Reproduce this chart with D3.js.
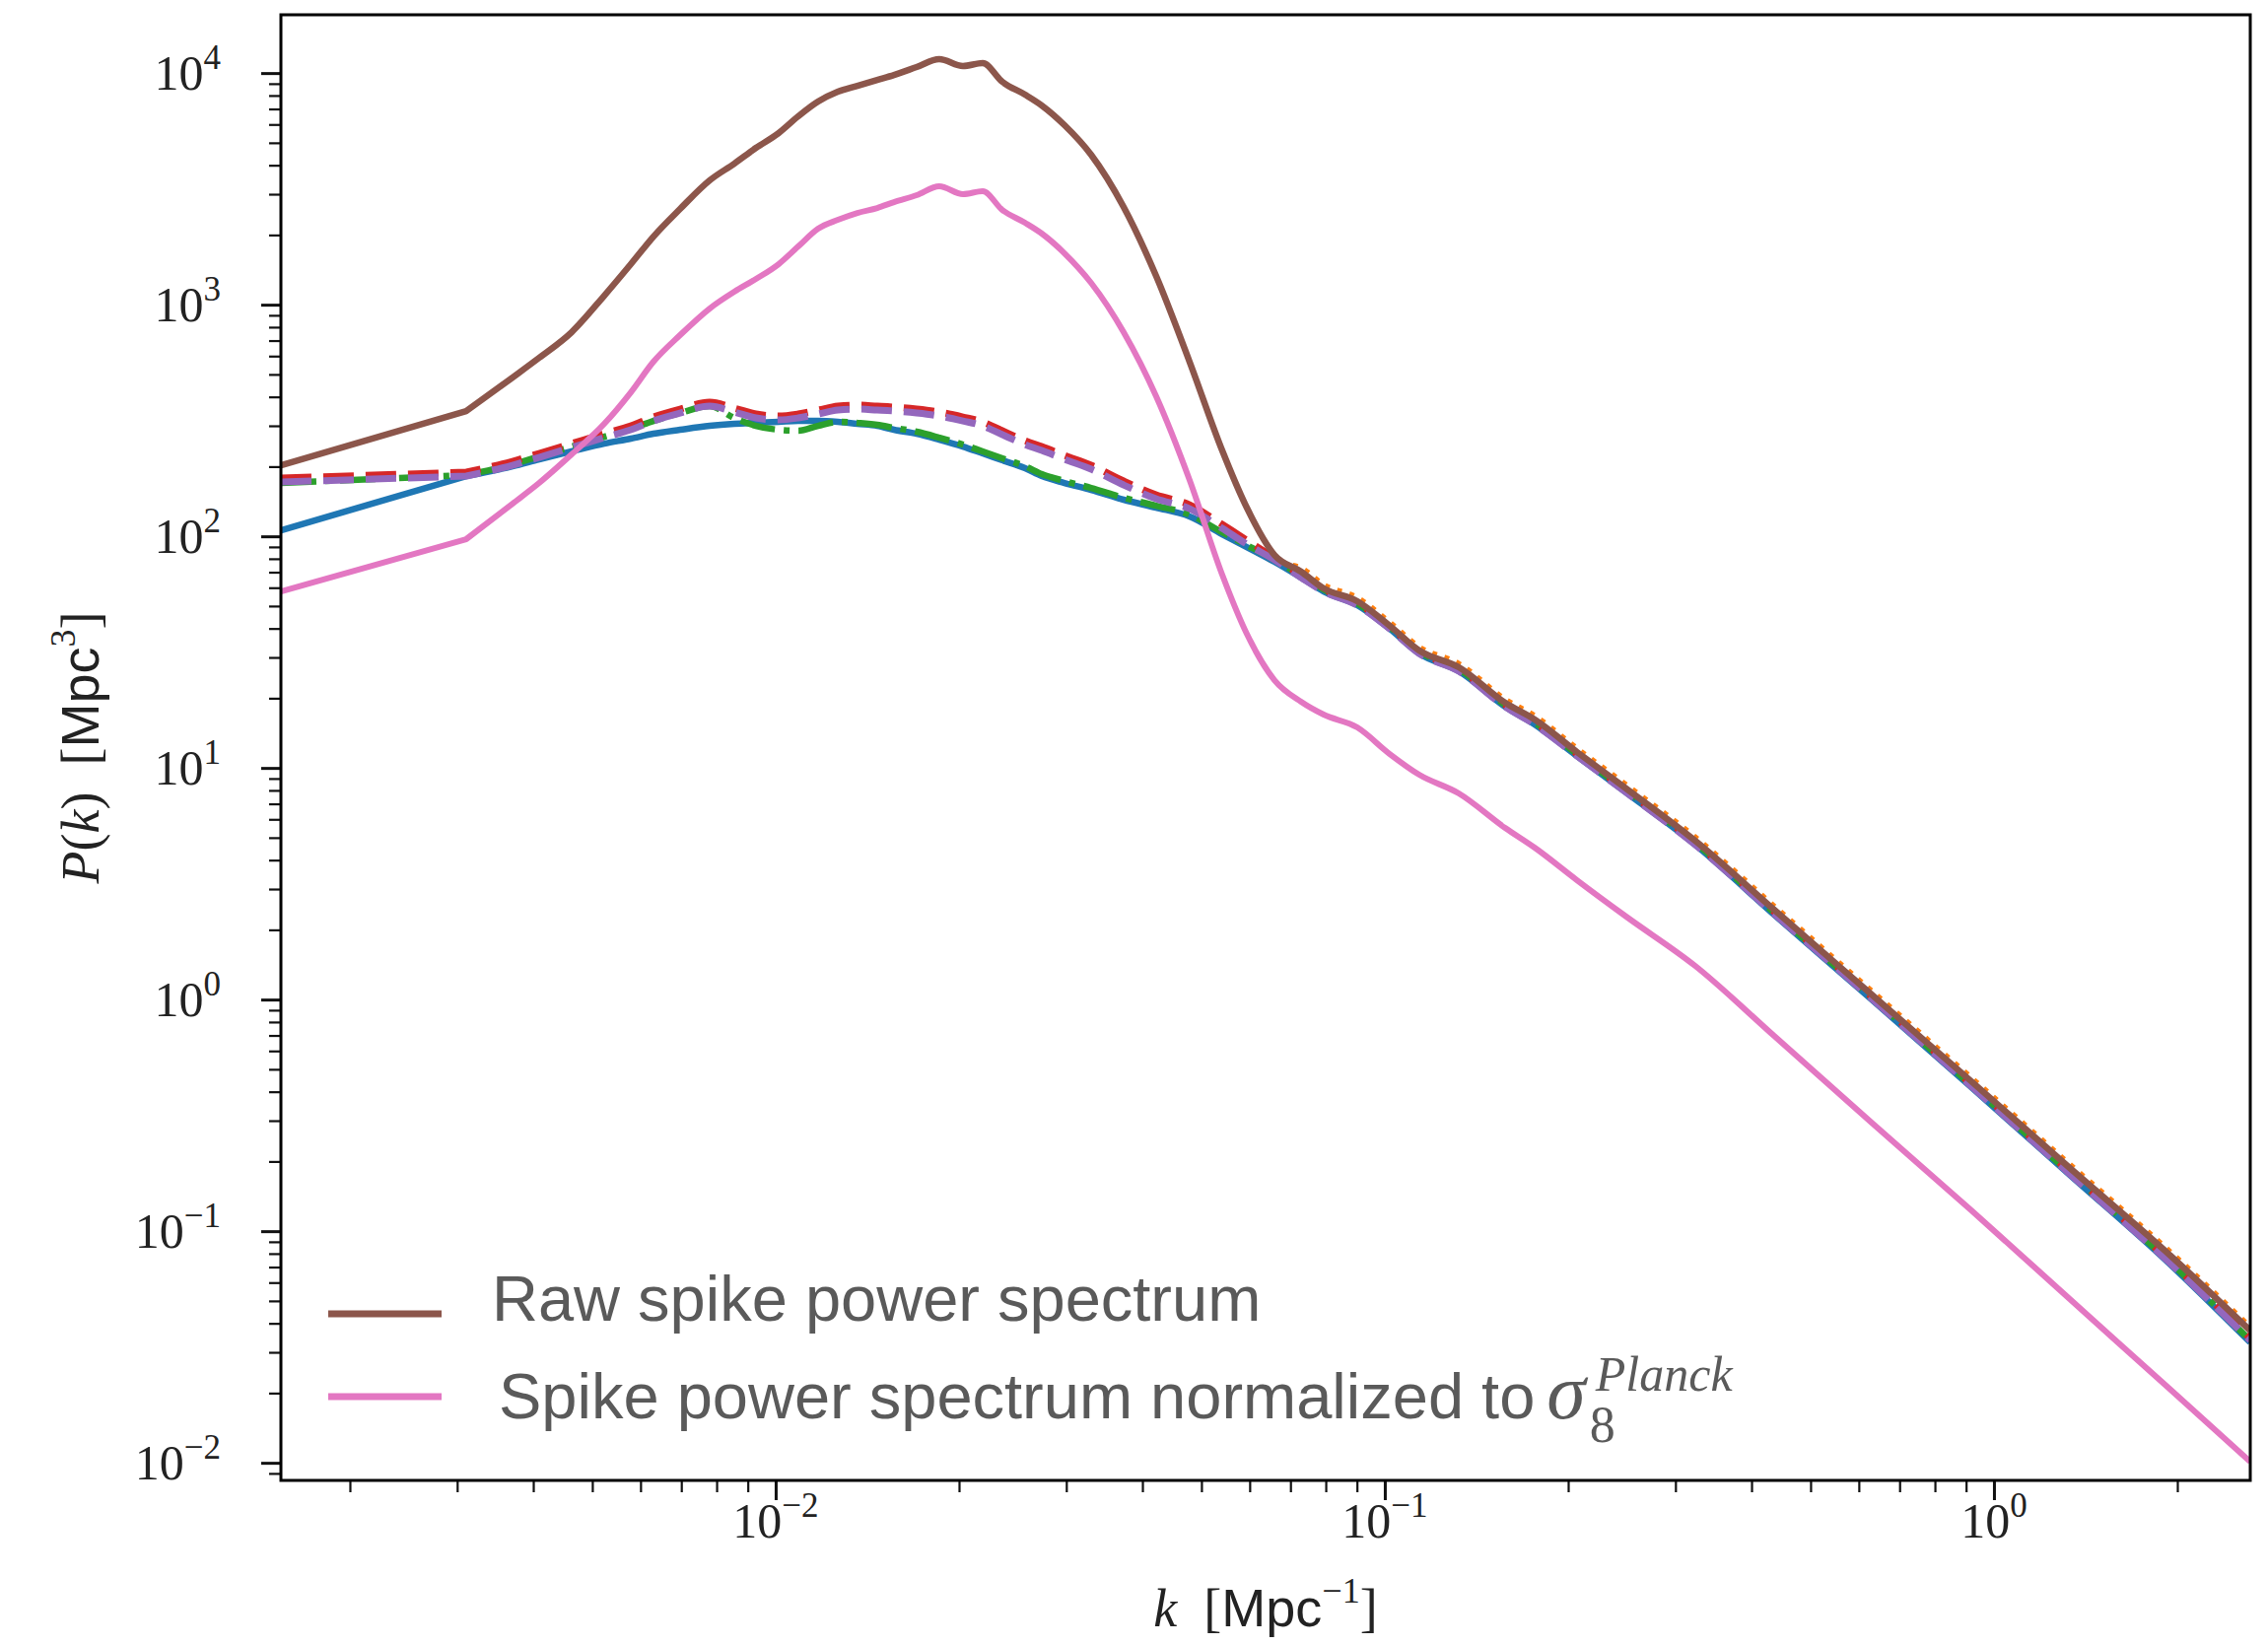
<!DOCTYPE html>
<html>
<head>
<meta charset="utf-8">
<title>Spike power spectrum</title>
<script src="https://cdn.jsdelivr.net/npm/d3@7"></script>
<style>
  html, body { margin: 0; padding: 0; background: #fff; }
  svg { display: block; }
</style>
</head>
<body>
<div id="vis"></div>
<script>
// k grid [Mpc^-1], shared by every curve
const kValues = [
    0.001541, 0.003104, 0.003698, 0.004090, 0.004624, 0.005230, 0.005784, 0.006300, 0.006967, 0.007792,
    0.008551, 0.009282, 0.01011, 0.01089, 0.01174, 0.01265, 0.01362, 0.01468, 0.01564, 0.01704,
    0.01856, 0.02030, 0.02187, 0.02356, 0.02567, 0.02735, 0.02980, 0.03295, 0.03726, 0.04213,
    0.04781, 0.05408, 0.05935, 0.06589, 0.07288, 0.07937, 0.09012, 0.1019, 0.1139, 0.1323,
    0.1576, 0.1762, 0.2068, 0.2491, 0.3233, 0.4357, 0.6324, 0.9180, 1.332, 1.934, 2.635
];

// P(k) [Mpc^3], one list per curve
const blueP = [
    106.1, 182.0, 200.7, 214.9, 232.5, 251.4, 264.1, 277.3, 288.4, 299.9,
    305.8, 308.9, 311.9, 315.0, 315.0, 311.9, 305.8, 299.9, 288.4, 277.3,
    261.5, 244.1, 228.0, 212.9, 196.8, 182.0, 169.9, 158.7, 143.9, 133.0,
    121.8, 102.1, 89.87, 77.60, 66.33, 57.82, 50.41, 39.85, 31.19, 26.15,
    18.37, 15.40, 11.26, 7.834, 4.661, 2.325, 0.9913, 0.4184, 0.1750, 0.07314, 0.03308
];
const orangeP = [
    106.1, 182.0, 200.7, 214.9, 232.5, 251.4, 264.1, 277.3, 288.4, 299.9,
    305.8, 308.9, 311.9, 315.0, 315.0, 311.9, 305.8, 299.9, 288.4, 277.3,
    261.5, 244.1, 228.0, 212.9, 196.8, 182.0, 169.9, 158.7, 143.9, 133.0,
    121.8, 102.1, 89.87, 77.60, 73.16, 61.94, 54.54, 42.68, 33.40, 28.28,
    19.87, 16.83, 12.18, 8.473, 5.042, 2.539, 1.083, 0.4614, 0.1949, 0.08310, 0.03870
];
const greenP = [
    169.9, 183.8, 204.6, 221.4, 244.1, 269.2, 291.2, 315.0, 340.7, 364.8,
    324.3, 299.9, 288.4, 285.6, 299.9, 311.9, 308.9, 302.9, 294.1, 282.8,
    266.7, 249.0, 232.5, 217.1, 200.7, 185.6, 173.3, 161.8, 146.7, 135.6,
    124.2, 104.1, 91.65, 79.14, 67.65, 58.97, 51.40, 40.64, 31.80, 26.67,
    18.74, 15.71, 11.48, 7.989, 4.753, 2.371, 1.011, 0.4268, 0.1785, 0.07460, 0.03374
];
const redP = [
    178.4, 189.2, 210.8, 228.0, 251.4, 277.3, 299.9, 327.5, 354.2, 379.4,
    357.7, 337.4, 330.8, 337.4, 350.8, 364.8, 368.5, 364.8, 361.4, 354.2,
    344.1, 327.5, 311.9, 285.6, 259.0, 244.1, 223.6, 202.7, 173.3, 151.1,
    136.9, 112.6, 96.25, 80.69, 67.65, 58.97, 51.40, 40.64, 31.80, 26.67,
    18.74, 15.71, 11.48, 7.989, 4.753, 2.394, 1.021, 0.4309, 0.1802, 0.07534, 0.03440
];
const purpleP = [
    171.5, 181.9, 202.7, 219.2, 241.7, 266.7, 288.4, 314.9, 340.6, 364.8,
    344.0, 324.4, 318.1, 324.4, 337.3, 350.8, 354.3, 350.8, 347.5, 340.6,
    330.9, 314.9, 299.9, 274.6, 249.1, 234.7, 215.0, 194.9, 166.6, 145.3,
    131.6, 108.3, 92.55, 79.12, 66.34, 57.83, 50.40, 39.85, 31.18, 26.15,
    18.38, 15.41, 11.26, 7.834, 4.661, 2.348, 1.001, 0.4225, 0.1767, 0.07388, 0.03373
];
// raw spike power spectrum
const brownP = [
    202.7, 347.3, 484.8, 589.7, 760.9, 1093, 1496, 1968, 2590, 3441,
    4064, 4753, 5506, 6506, 7534, 8310, 8813, 9346, 9815, 10614,
    11482, 10720, 11041, 9165, 8069, 7244, 5955, 4439, 2641, 1330,
    567.0, 234.8, 133.0, 83.10, 70.35, 59.56, 52.44, 41.04, 32.12, 27.19,
    19.11, 16.18, 11.71, 8.147, 4.848, 2.441, 1.041, 0.4437, 0.1874, 0.07990, 0.03721
];
// spike power spectrum normalized to sigma8 Planck
const pinkP = [
    57.82, 97.19, 138.3, 169.9, 225.7, 305.8, 418.4, 567.0, 738.8, 962.5,
    1137, 1291, 1496, 1784, 2129, 2325, 2490, 2615, 2773, 2970,
    3243, 2999, 3089, 2564, 2257, 2027, 1666, 1242, 760.9, 402.3,
    175.0, 68.30, 37.94, 23.94, 19.30, 16.99, 14.96, 11.48, 9.346, 7.760,
    5.506, 4.525, 3.275, 2.280, 1.397, 0.6966, 0.2912, 0.1230, 0.05089, 0.02108, 0.01011
];

const legendLabels = ['Raw spike power spectrum', 'Spike power spectrum normalized to'];
const xTickExps = [-2, -1, 0];
const yTickExps = [-2, -1, 0, 1, 2, 3, 4];
const xDomain = [0.001541, 2.635];
const yDomain = [0.008395, 17850];

// dimens. and margins
const W = 2301, H = 1669;
const margin = { top: 15, right: 18, bottom: 167, left: 285 };
const right = W - margin.right;
const bottom = H - margin.bottom;

const serif = '"Liberation Serif", "DejaVu Serif", serif';
const sans = '"Liberation Sans", Arial, Helvetica, sans-serif';

const svg = d3.select('#vis')
    .append('svg')
    .attr('width', W)
    .attr('height', H);

const x = d3.scaleLog().domain(xDomain).range([margin.left, right]);
const y = d3.scaleLog().domain(yDomain).range([bottom, margin.top]);

// curves, in drawing order
const series = [
    { values: orangeP, color: '#ff7f0e', lw: 5, dash: '5,8' },
    { values: blueP, color: '#1f77b4', lw: 6.5, dash: null },
    { values: greenP, color: '#2ca02c', lw: 6.5, dash: '36,9,6,9' },
    { values: redP, color: '#d62728', lw: 7, dash: '31,12' },
    { values: purpleP, color: '#9467bd', lw: 7, dash: '31,12' },
    { values: brownP, color: '#8c564b', lw: 6.5, dash: null },
    { values: pinkP, color: '#e377c2', lw: 6, dash: null }
];

svg.append('defs').append('clipPath').attr('id', 'clip')
    .append('rect')
    .attr('x', margin.left).attr('y', margin.top)
    .attr('width', right - margin.left).attr('height', bottom - margin.top);

// first (sparse) segment straight, the rest smooth
const straight = d3.line().x(d => x(d.k)).y(d => y(d.p));
const smooth = d3.line().x(d => x(d.k)).y(d => y(d.p)).curve(d3.curveMonotoneX);

const lines = svg.append('g').attr('clip-path', 'url(#clip)');
series.forEach(s => {
    const pts = kValues.map((k, i) => ({ k, p: s.values[i] }));
    const d = straight(pts.slice(0, 2)) + smooth(pts.slice(1)).replace(/^M/, 'L');
    lines.append('path')
        .attr('d', d)
        .attr('fill', 'none')
        .attr('stroke', s.color)
        .attr('stroke-width', s.lw)
        .attr('stroke-linejoin', 'round')
        .attr('stroke-dasharray', s.dash);
});

// minor tick values inside a log domain
function minorTicks(domain, e0, e1) {
    const out = [];
    for (let e = e0; e <= e1; e++) {
        for (let m = 2; m <= 9; m++) {
            const v = m * Math.pow(10, e);
            if (v >= domain[0] && v <= domain[1]) out.push(v);
        }
    }
    return out;
}

const xMajor = xTickExps.map(e => Math.pow(10, e));
const yMajor = yTickExps.map(e => Math.pow(10, e));

function styleTicks(g, w) {
    g.select('.domain').remove();
    g.selectAll('.tick line').attr('stroke', '#111').attr('stroke-width', w);
    g.selectAll('.tick text').remove();
}

// x axis ticks (major + minor)
svg.append('g').attr('transform', `translate(0, ${bottom})`)
    .call(d3.axisBottom(x).tickValues(xMajor).tickSize(20).tickFormat(''))
    .call(g => styleTicks(g, 3));
svg.append('g').attr('transform', `translate(0, ${bottom})`)
    .call(d3.axisBottom(x).tickValues(minorTicks(xDomain, -3, 0)).tickSize(12).tickFormat(''))
    .call(g => styleTicks(g, 2.2));

// y axis ticks (major + minor)
svg.append('g').attr('transform', `translate(${margin.left}, 0)`)
    .call(d3.axisLeft(y).tickValues(yMajor).tickSize(20).tickFormat(''))
    .call(g => styleTicks(g, 3));
svg.append('g').attr('transform', `translate(${margin.left}, 0)`)
    .call(d3.axisLeft(y).tickValues(minorTicks(yDomain, -3, 4)).tickSize(12).tickFormat(''))
    .call(g => styleTicks(g, 2.2));

// frame
svg.append('rect')
    .attr('x', margin.left).attr('y', margin.top)
    .attr('width', right - margin.left).attr('height', bottom - margin.top)
    .attr('fill', 'none').attr('stroke', '#000').attr('stroke-width', 3);

// 10^n tick labels
function powLabel(sel, exp) {
    sel.append('tspan').text('10');
    sel.append('tspan')
        .attr('dy', -21)
        .attr('font-size', 35)
        .text(exp < 0 ? '\u2212' + Math.abs(exp) : String(exp));
}

svg.append('g').selectAll('text')
    .data(xTickExps)
    .join('text')
    .attr('x', d => x(Math.pow(10, d)))
    .attr('y', 1560)
    .attr('text-anchor', 'middle')
    .attr('font-family', serif)
    .attr('font-size', 50)
    .attr('fill', '#222')
    .each(function (d) { powLabel(d3.select(this), d); });

svg.append('g').selectAll('text')
    .data(yTickExps)
    .join('text')
    .attr('x', 224)
    .attr('y', d => y(Math.pow(10, d)) + 17)
    .attr('text-anchor', 'end')
    .attr('font-family', serif)
    .attr('font-size', 50)
    .attr('fill', '#222')
    .each(function (d) { powLabel(d3.select(this), d); });

// axis labels
const xl = svg.append('text')
    .attr('x', (margin.left + right) / 2)
    .attr('y', 1650)
    .attr('text-anchor', 'middle')
    .attr('font-size', 54)
    .attr('fill', '#222');
xl.append('tspan').attr('font-family', serif).attr('font-style', 'italic').text('k');
xl.append('tspan').attr('font-family', serif).text('\u2002[');
xl.append('tspan').attr('font-family', sans).text('Mpc');
xl.append('tspan').attr('font-family', serif).attr('font-size', 36).attr('dy', -24).text('\u22121');
xl.append('tspan').attr('font-family', serif).attr('dy', 24).text(']');

const yl = svg.append('text')
    .attr('transform', `translate(100, ${(margin.top + bottom) / 2}) rotate(-90)`)
    .attr('text-anchor', 'middle')
    .attr('font-size', 54)
    .attr('fill', '#222');
yl.append('tspan').attr('font-family', serif).attr('font-style', 'italic').text('P');
yl.append('tspan').attr('font-family', serif).text('(');
yl.append('tspan').attr('font-family', serif).attr('font-style', 'italic').text('k');
yl.append('tspan').attr('font-family', serif).text(')\u2002[');
yl.append('tspan').attr('font-family', sans).text('Mpc');
yl.append('tspan').attr('font-family', serif).attr('font-size', 36).attr('dy', -24).text('3');
yl.append('tspan').attr('font-family', serif).attr('dy', 24).text(']');

// legend (no frame)
const legend = svg.append('g');
const legendColors = ['#8c564b', '#e377c2'];
const legendY = [1333, 1417];
const textX = [499, 506];
const textY = [1340, 1439];

legendLabels.forEach((label, i) => {
    legend.append('line')
        .attr('x1', 333).attr('x2', 448)
        .attr('y1', legendY[i]).attr('y2', legendY[i])
        .attr('stroke', legendColors[i]).attr('stroke-width', 7);
    legend.append('text')
        .attr('class', 'leg-text')
        .attr('x', textX[i]).attr('y', textY[i])
        .attr('font-family', sans)
        .attr('font-size', 65)
        .attr('fill', '#5a5a5a')
        .text(label);
});

// sigma_8^Planck after the second label
const t2 = legend.selectAll('.leg-text').nodes()[1];
const sx = textX[1] + t2.getComputedTextLength() + 12;
const sig = legend.append('text')
    .attr('x', sx).attr('y', textY[1])
    .attr('font-family', serif).attr('font-style', 'italic')
    .attr('font-size', 80).attr('fill', '#5a5a5a')
    .text('\u03c3');
const scriptX = sx + sig.node().getComputedTextLength() + 4;
legend.append('text')
    .attr('x', scriptX).attr('y', textY[1] + 24)
    .attr('font-family', serif)
    .attr('font-size', 52).attr('fill', '#5a5a5a')
    .text('8');
legend.append('text')
    .attr('x', scriptX + 6).attr('y', textY[1] - 28)
    .attr('font-family', serif).attr('font-style', 'italic')
    .attr('font-size', 50).attr('fill', '#5a5a5a')
    .text('Planck');
</script>
</body>
</html>
